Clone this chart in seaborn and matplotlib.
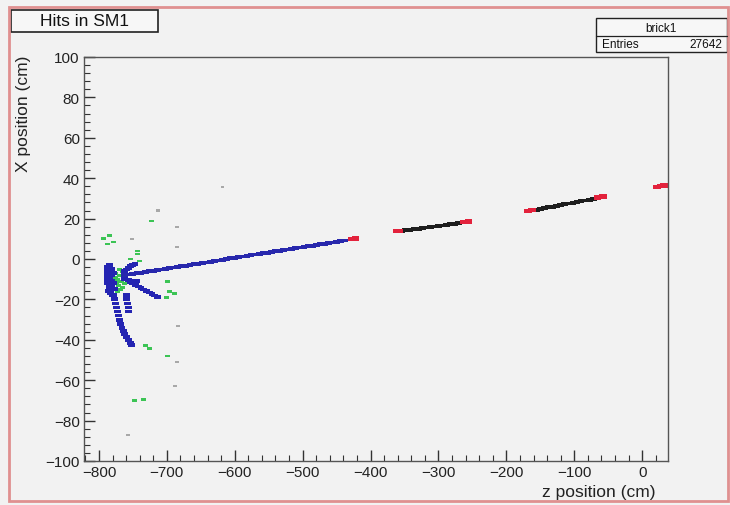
import matplotlib
matplotlib.use("Agg")
import matplotlib.pyplot as plt
import seaborn as sns
import pandas as pd
from matplotlib.patches import Rectangle
from matplotlib.ticker import MultipleLocator, FixedLocator

# ---------------- data ----------------
title_text = "Hits in SM1"
stats_name = "brick1"
stats_entries = "27642"
x_label = "z position (cm)"
y_label = "X position (cm)"
x_ticks = [-800, -700, -600, -500, -400, -300, -200, -100, 0]
y_ticks = [-100, -80, -60, -40, -20, 0, 20, 40, 60, 80, 100]

# long blue track
z_track = [-762, -756, -750, -744, -738, -732, -726, -720, -714, -708, -702, -696, -690,
           -684, -678, -672, -666, -660, -654, -648, -642, -636, -630, -624, -618, -612,
           -606, -600, -594, -588, -582, -576, -570, -564, -558, -552, -546, -540, -534,
           -528, -522, -516, -510, -504, -498, -492, -486, -480, -474, -468, -462, -456,
           -450, -444, -438]
x_track = [-8.0, -7.7, -7.4, -7.1, -6.8, -6.4, -6.1, -5.8, -5.5, -5.2, -4.9, -4.5, -4.2,
           -3.9, -3.6, -3.3, -2.9, -2.6, -2.3, -2.0, -1.7, -1.3, -1.0, -0.7, -0.4, -0.1,
           0.3, 0.6, 0.9, 1.2, 1.5, 1.9, 2.2, 2.5, 2.8, 3.1, 3.5, 3.8, 4.1,
           4.4, 4.7, 5.1, 5.4, 5.7, 6.0, 6.3, 6.6, 7.0, 7.3, 7.6, 7.9, 8.2,
           8.6, 8.9, 9.2]

# blue hits around the vertex (blob and short tracks)
z_blue = [-788, -788, -788, -788, -788, -785, -785, -785, -785, -785, -782, -782, -782,
          -782, -779, -779, -777, -786, -783, -780,
          -762, -759, -756, -753, -750, -747,
          -754, -750, -746, -742, -738, -734, -730, -726, -722, -718, -714,
          -762, -756, -750, -744,
          -779, -777, -776, -774, -773, -771, -770, -768, -766, -764, -762, -760, -757,
          -754, -752,
          -760, -759, -758, -757, -756]
x_blue = [-4, -6, -8, -10, -12, -3, -5, -7, -9, -14, -5, -8, -11,
          -14, -7, -12, -15, -16, -17, -18,
          -6.0, -5.2, -4.4, -3.6, -2.9, -2.4,
          -11.4, -12.1, -12.9, -13.6, -14.4, -15.1, -15.9, -16.6, -17.4, -18.1, -18.9,
          -10.0, -10.3, -10.7, -11.0,
          -18, -20, -22, -24, -26, -28, -30, -32, -34, -35.5, -37, -38.5, -40,
          -41.5, -42.5,
          -18, -20, -22, -24, -26]

# green hits
z_green = [-775, -773, -771, -769, -767, -765, -772, -768, -764, -770, -762, -766,
           -774, -770, -776,
           -794, -784, -779, -787, -722, -743, -740, -699, -696, -688, -700,
           -732, -725, -699, -747, -735, -754, -743, -440, -610, -520, -690, -580]
x_green = [-7, -10, -13, -8, -11, -14, -16, -15, -9, -5, -12, -6,
           -12, -11, -9,
           10, 11.5, 8.4, 7.4, 18.8, 4, -1, -11, -16, -17, -19,
           -43, -44.5, -48, -70, -69.5, 0, 2.5, 9.0, 0.2, 4.6, -4.1, 1.7]

# red hits (ends of each segment)
z_red = [-428, -422, -362, -358, -262, -256, -168, -162, -66, -58, 22, 28, 32]
x_red = [9.8, 10.1, 13.7, 13.9, 18.2, 18.5, 23.9, 24.2, 30.4, 30.9, 35.6, 36.0, 36.4]

# black hits (segments between red ends)
z_black = [-354, -348, -342, -336, -330, -324, -318, -312, -306, -300, -294, -288,
           -282, -276, -270,
           -156, -150, -144, -138, -132, -126, -120, -114, -108, -102, -96, -90,
           -84, -78, -72]
x_black = [14.0, 14.3, 14.5, 14.8, 15.0, 15.3, 15.6, 15.9, 16.1, 16.4, 16.6, 16.9,
           17.2, 17.4, 17.7,
           24.4, 24.8, 25.2, 25.6, 25.9, 26.3, 26.7, 27.1, 27.5, 27.9, 28.3, 28.6,
           29.0, 29.4, 29.8]

# faint grey hits
z_grey = [-618, -713, -685, -685, -751, -684, -685, -688, -757, -675]
x_grey = [35.6, 24, 16, 6, 10, -33, -51, -63, -87, -3]

# ---------------- figure ----------------
sns.set_theme(style="white")
plt.rcParams["font.family"] = ["Liberation Sans", "DejaVu Sans"]
bg = "#f2f2f2"
fig = plt.figure(figsize=(7.30, 5.06), dpi=100, facecolor=bg)
ax = fig.add_axes([84 / 730, 1 - 462 / 506, (668 - 84) / 730, (462 - 58) / 506])
ax.set_facecolor(bg)

dash = [(-1.6, -0.9), (1.6, -0.9), (1.6, 0.9), (-1.6, 0.9), (-1.6, -0.9)]
groups = [
    (z_grey, x_grey, "#a8a8a8", 8),
    (z_green, x_green, "#3cc455", 13),
    (z_track, x_track, "#2828ad", 24),
    (z_blue, x_blue, "#2424b2", 24),
    (z_black, x_black, "#1e1e1e", 24),
    (z_red, x_red, "#e3223c", 30),
]
for zs, xs, col, sz in groups:
    df = pd.DataFrame({"z": zs, "X": xs})
    sns.scatterplot(data=df, x="z", y="X", ax=ax, color=col, marker=dash,
                    s=sz, linewidth=0, edgecolor="none", legend=False)

ax.set_xlim(-822, 38)
ax.set_ylim(-100, 100)
ax.xaxis.set_major_locator(FixedLocator(x_ticks))
ax.yaxis.set_major_locator(FixedLocator(y_ticks))
ax.xaxis.set_minor_locator(MultipleLocator(20))
ax.yaxis.set_minor_locator(MultipleLocator(4))
ax.set_xticklabels([str(v).replace("-", "\u2212") for v in x_ticks])
ax.set_yticklabels([str(v).replace("-", "\u2212") for v in y_ticks])
ax.tick_params(axis="both", which="both", direction="in", colors="#333333",
               labelcolor="#222222", labelsize=11, top=False, right=False,
               left=True, bottom=True)
ax.tick_params(axis="both", which="major", length=8, width=1)
ax.tick_params(axis="both", which="minor", length=4, width=0.8)
ax.tick_params(axis="x", which="major", pad=3)
ax.tick_params(axis="y", which="major", pad=3)
for sp in ax.spines.values():
    sp.set_color("#555555")
    sp.set_linewidth(1.0)
ax.set_xlabel("")
ax.set_ylabel("")

fig.text(655 / 730, 1 - 493 / 506, x_label, ha="right", va="center",
         fontsize=12.5, color="#222222")
fig.text(24 / 730, 1 - 56 / 506, y_label, ha="center", va="top", rotation=90,
         fontsize=12.5, color="#222222")

# title box
fig.patches.append(Rectangle((11 / 730, 1 - 33 / 506), 147 / 730, 22 / 506,
                             transform=fig.transFigure, facecolor="#f7f7f7",
                             edgecolor="#222222", lw=1.2))
fig.text(84 / 730, 1 - 22 / 506, title_text, ha="center", va="center",
         fontsize=12.5, color="#111111")

# stats box
fig.patches.append(Rectangle((596 / 730, 1 - 53 / 506), 131 / 730, 34 / 506,
                             transform=fig.transFigure, facecolor="#f7f7f7",
                             edgecolor="#222222", lw=1.0))
fig.lines.append(plt.Line2D([596 / 730, 727 / 730], [1 - 37 / 506, 1 - 37 / 506],
                            transform=fig.transFigure, color="#222222", lw=0.9))
fig.text(661 / 730, 1 - 28.5 / 506, stats_name, ha="center", va="center",
         fontsize=8.5, color="#111111")
fig.text(602 / 730, 1 - 45 / 506, "Entries", ha="left", va="center",
         fontsize=8.5, color="#111111")
fig.text(722 / 730, 1 - 45 / 506, stats_entries, ha="right", va="center",
         fontsize=8.5, color="#111111")

# pinkish canvas frame
fig.patches.append(Rectangle((9 / 730, 4 / 506), 719 / 730, 494 / 506,
                             transform=fig.transFigure, fill=False,
                             edgecolor="#e09090", lw=2))

fig.savefig("out.png", dpi=100, facecolor=bg)
